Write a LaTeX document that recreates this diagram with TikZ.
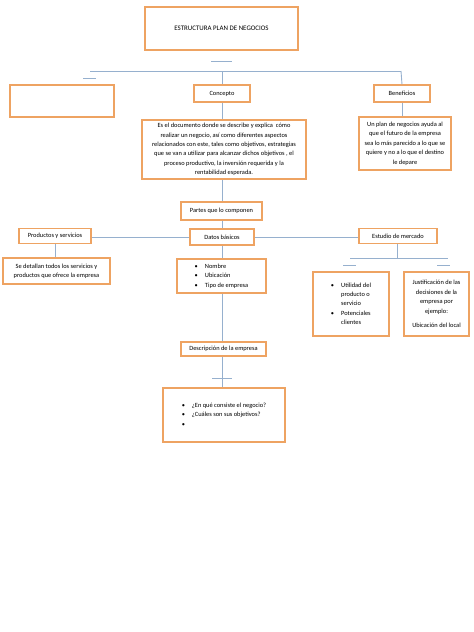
\documentclass[tikz,border=0pt]{standalone}
\usepackage{fontspec}
\setmainfont{Carlito}
\definecolor{boxor}{RGB}{238,163,98}
\definecolor{conn}{RGB}{150,176,206}
\tikzset{
  box/.style={draw=boxor, line width=1.3pt, fill=white, inner sep=1pt, align=center,
    font=\fontsize{6.4}{9.4}\selectfont, text=black},
  conline/.style={draw=conn, line width=0.9pt},
}
\newcommand{\bl}{\textbullet}
\begin{document}
\begin{tikzpicture}[x=1pt,y=-1pt]
\useasboundingbox (0,0) rectangle (474,632);
\coordinate (h1) at (90,71);
\coordinate (h2) at (401,71);
\coordinate (c1) at (222,71);
\coordinate (d1a) at (211,61); \coordinate (d1b) at (232,61);
\coordinate (d2a) at (83,78); \coordinate (d2b) at (96,78);
\coordinate (e1) at (397,258);
\coordinate (e2a) at (350,258); \coordinate (e2b) at (448,258);
\coordinate (d3a) at (343,265); \coordinate (d3b) at (356,265);
\coordinate (d4a) at (437,265); \coordinate (d4b) at (450,265);
\coordinate (x1a) at (212,378); \coordinate (x1b) at (232,378);

% boxes
\node[box, minimum width=153pt, minimum height=43pt, font=\fontsize{6.9}{9}\selectfont] (title) at (221.5,28.5) {ESTRUCTURA PLAN DE NEGOCIOS};
\node[box, minimum width=104pt, minimum height=32pt] (empty) at (62,101) {};
\node[box, minimum width=56pt, minimum height=17pt] (concepto) at (222,93.5) {Concepto};
\node[box, minimum width=56pt, minimum height=17pt] (benef) at (402,93.5) {Beneficios};
\node[box, minimum width=164pt, minimum height=59pt] (ctext) at (224,149.5) {Es el documento donde se describe y explica\ \ cómo\\realizar un negocio, así como diferentes aspectos\\relacionados con este, tales como objetivos, estrategias\\que se van a utilizar para alcanzar dichos objetivos , el\\proceso productivo, la inversión requerida y la\\rentabilidad esperada.};
\node[box, minimum width=92pt, minimum height=53pt] (btext) at (405,143.5) {Un plan de negocios ayuda al\\que el futuro de la empresa\\sea lo más parecido a lo que se\\quiere y no a lo que el destino\\le depare};
\node[box, minimum width=81pt, minimum height=18pt] (partes) at (221.5,211) {Partes que lo componen};
\node[box, minimum width=64pt, minimum height=16pt] (datos) at (222,237) {Datos básicos};
\node[box, minimum width=72pt, minimum height=15pt] (prod) at (55,236) {Productos y servicios};
\node[box, minimum width=78pt, minimum height=15pt] (estudio) at (398,236) {Estudio de mercado};
\node[box, minimum width=107pt, minimum height=26pt] (detallan) at (56.5,271) {Se detallan todos los servicios y\\productos que ofrece la empresa};
\node[box, minimum width=89pt, minimum height=34pt] (dlist) at (221.5,276) {\begin{tabular}{@{}l@{\hspace{7pt}}l@{}}\bl & Nombre\\ \bl & Ubicación\\ \bl & Tipo de empresa\end{tabular}};
\node[box, minimum width=76pt, minimum height=64pt] (util) at (351,304) {\begin{tabular}{@{}l@{\hspace{7pt}}l@{}}\bl & Utilidad del\\ & producto o\\ & servicio\\ \bl & Potenciales\\ & clientes\end{tabular}};
\node[box, minimum width=65pt, minimum height=64pt] (just) at (436.5,304) {Justificación de las\\decisiones de la\\empresa por\\ejemplo:\\[5pt]Ubicación del local};
\node[box, minimum width=85pt, minimum height=14pt] (desc) at (223.5,349) {Descripción de la empresa};
\node[box, minimum width=122pt, minimum height=54pt] (last) at (224,415) {\begin{tabular}{@{}l@{\hspace{7pt}}l@{}}\bl & ¿En qué consiste el negocio?\\ \bl & ¿Cuáles son sus objetivos?\\ \bl & \end{tabular}};

% connectors
\draw[conline] (d1a) -- (d1b);
\draw[conline] (d2a) -- (d2b);
\draw[conline] (h1) -- (h2);
\draw[conline] (c1) -- (concepto.north);
\draw[conline] (h2) -- (benef.north);
\draw[conline] (concepto.south) -- (ctext.north -| concepto.south);
\draw[conline] (benef.south) -- (btext.north -| benef.south);
\draw[conline] (ctext.south -| concepto.south) -- (partes.north -| concepto.south);
\draw[conline] (partes.south -| concepto.south) -- (datos.north);
\draw[conline] (datos.south) -- (dlist.north -| datos.south);
\draw[conline] (dlist.south -| datos.south) -- (desc.north -| datos.south);
\draw[conline] (desc.south -| datos.south) -- (last.north -| datos.south);
\draw[conline] (x1a) -- (x1b);
\draw[conline] (prod.east |- datos.west) -- (datos.west);
\draw[conline] (datos.east) -- (estudio.west |- datos.east);
\draw[conline] (prod.south) -- (detallan.north -| prod.south);
\draw[conline] (estudio.south -| e1) -- (e1);
\draw[conline] (e2a) -- (e2b);
\draw[conline] (d3a) -- (d3b);
\draw[conline] (d4a) -- (d4b);
\end{tikzpicture}
\end{document}
